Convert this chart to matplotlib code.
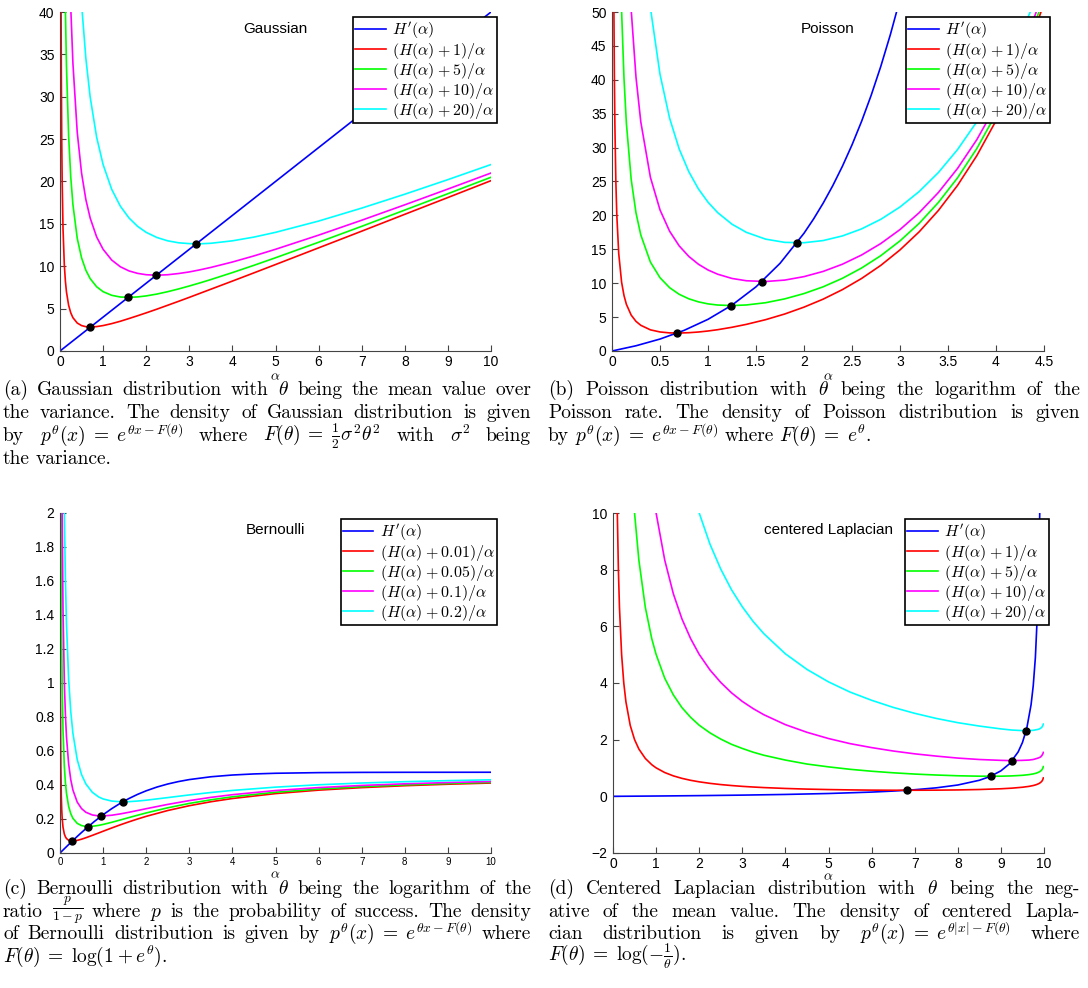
import re
import matplotlib
matplotlib.use('Agg')
import matplotlib.pyplot as plt
from matplotlib.ticker import FuncFormatter

# (a) Gaussian
gauss_alpha = [0.02, 0.025, 0.03, 0.04, 0.05, 0.07, 0.1, 0.125, 0.15, 0.2, 0.25, 0.3, 0.4, 0.5, 0.6, 0.7, 0.85, 1, 1.2, 1.4,
               1.6, 1.8, 2, 2.25, 2.5, 2.75, 3, 3.25, 3.5, 4, 4.5, 5, 6, 7, 8, 9, 10]
gauss_c1 = [50.04, 40.05, 33.39, 25.08, 20.1, 14.43, 10.2, 8.25, 6.97, 5.4, 4.5, 3.93, 3.3, 3.0, 2.87, 2.83, 2.88, 3.0, 3.23, 3.51,
            3.83, 4.16, 4.5, 4.94, 5.4, 5.86, 6.33, 6.81, 7.29, 8.25, 9.22, 10.2, 12.17, 14.14, 16.13, 18.11, 20.1]
gauss_c5 = [250.04, 200.05, 166.7, 125.1, 100.1, 71.57, 50.2, 40.25, 33.63, 25.4, 20.5, 17.27, 13.3, 11.0, 9.53, 8.54, 7.58, 7.0, 6.57, 6.37,
            6.33, 6.38, 6.5, 6.72, 7.0, 7.32, 7.67, 8.04, 8.43, 9.25, 10.11, 11.0, 12.83, 14.71, 16.63, 18.56, 20.5]
gauss_c10 = [500.0, 400.1, 333.4, 250.1, 200.1, 143.0, 100.2, 80.25, 66.97, 50.4, 40.5, 33.93, 25.8, 21.0, 17.87, 15.69, 13.46, 12.0, 10.73, 9.94,
             9.45, 9.16, 9.0, 8.94, 9.0, 9.14, 9.33, 9.58, 9.86, 10.5, 11.22, 12.0, 13.67, 15.43, 17.25, 19.11, 21.0]
gauss_c20 = [1000.0, 800.1, 666.7, 500.1, 400.1, 285.9, 200.2, 160.3, 133.6, 100.4, 80.5, 67.27, 50.8, 41.0, 34.53, 29.97, 25.23, 22.0, 19.07, 17.09,
             15.7, 14.71, 14.0, 13.39, 13.0, 12.77, 12.67, 12.65, 12.71, 13.0, 13.44, 14.0, 15.33, 16.86, 18.5, 20.22, 22.0]
gauss_dH_alpha = [0, 10]
gauss_dH = [0, 40]
gauss_dot_alpha = [0.707, 1.581, 2.236, 3.162]
gauss_dot_y = [2.828, 6.325, 8.944, 12.649]

# (b) Poisson
pois_alpha = [0.02, 0.025, 0.03, 0.04, 0.05, 0.07, 0.1, 0.125, 0.15, 0.2, 0.25, 0.3, 0.4, 0.5, 0.6, 0.7, 0.8, 0.9, 1, 1.1,
              1.25, 1.4, 1.6, 1.8, 2, 2.2, 2.4, 2.6, 2.8, 3, 3.2, 3.4, 3.6, 3.8, 4, 4.2, 4.4, 4.5]
pois_c1 = [50.03, 40.03, 33.37, 25.06, 20.07, 14.38, 10.14, 8.18, 6.88, 5.29, 4.37, 3.79, 3.12, 2.81, 2.67, 2.65, 2.70, 2.80, 2.95, 3.14,
           3.50, 3.93, 4.62, 5.46, 6.47, 7.65, 9.05, 10.70, 12.63, 14.91, 17.58, 20.73, 24.44, 28.81, 33.96, 40.03, 47.21, 51.28]
pois_c5 = [250.03, 200.03, 166.71, 125.06, 100.07, 71.53, 50.14, 40.18, 33.55, 25.29, 20.37, 17.12, 13.12, 10.81, 9.34, 8.36, 7.70, 7.25, 6.95, 6.78,
           6.70, 6.79, 7.12, 7.69, 8.47, 9.47, 10.72, 12.24, 14.06, 16.24, 18.83, 21.91, 25.55, 29.86, 34.96, 40.99, 48.12, 52.17]
pois_c10 = [500.03, 400.03, 333.38, 250.06, 200.07, 142.95, 100.14, 80.18, 66.88, 50.29, 40.37, 33.79, 25.62, 20.81, 17.67, 15.50, 13.95, 12.80, 11.95, 11.33,
            10.70, 10.36, 10.25, 10.46, 10.97, 11.74, 12.80, 14.16, 15.85, 17.91, 20.40, 23.38, 26.94, 31.17, 36.21, 42.18, 49.26, 53.28]
pois_c20 = [1000.03, 800.03, 666.71, 500.06, 400.07, 285.81, 200.14, 160.18, 133.55, 100.29, 80.37, 67.12, 50.62, 40.81, 34.34, 29.79, 26.45, 23.91, 21.95, 20.42,
            18.70, 17.50, 16.50, 16.02, 15.97, 16.29, 16.97, 18.01, 19.42, 21.24, 23.52, 26.32, 29.72, 33.81, 38.71, 44.56, 51.53, 55.50]
pois_dH_alpha = [0, 0.25, 0.5, 0.75, 1, 1.25, 1.5, 1.75, 2, 2.1, 2.2, 2.3, 2.4, 2.5, 2.6, 2.7, 2.8, 2.9, 3]
pois_dH = [0, 0.772, 1.763, 3.036, 4.671, 6.770, 9.464, 12.924, 17.367, 19.480, 21.815, 24.394, 27.245, 30.397, 33.879, 37.729, 41.982, 46.684, 51.880]
pois_dot_alpha = [0.680, 1.2425, 1.562, 1.926]
pois_dot_y = [2.644, 6.698, 10.244, 15.939]

# (c) Bernoulli
bern_alpha = [0.004, 0.005, 0.0065, 0.008, 0.01, 0.015, 0.02, 0.03, 0.04, 0.05, 0.07, 0.1, 0.125, 0.15, 0.2, 0.25, 0.3, 0.4, 0.5, 0.6,
              0.75, 0.9, 1, 1.2, 1.4, 1.6, 1.8, 2, 2.5, 3, 3.5, 4, 5, 6, 7, 8, 9, 10]
bern_c001 = [2.5005, 2.0006, 1.5393, 1.2510, 1.0013, 0.6685, 0.5025, 0.3371, 0.2550, 0.2062, 0.1516, 0.1124, 0.0955, 0.0853, 0.0748, 0.0710, 0.0704, 0.0742, 0.0812, 0.0897,
             0.1037, 0.1182, 0.1280, 0.1472, 0.1658, 0.1834, 0.2000, 0.2156, 0.2499, 0.2782, 0.3015, 0.3205, 0.3494, 0.3697, 0.3845, 0.3958, 0.4045, 0.4116]
bern_c005 = [12.5005, 10.0006, 7.6931, 6.2510, 5.0013, 3.3352, 2.5025, 1.6704, 1.2550, 1.0062, 0.7230, 0.5124, 0.4155, 0.3520, 0.2748, 0.2310, 0.2038, 0.1742, 0.1612, 0.1563,
             0.1570, 0.1626, 0.1680, 0.1805, 0.1943, 0.2084, 0.2222, 0.2356, 0.2659, 0.2916, 0.3129, 0.3305, 0.3574, 0.3763, 0.3902, 0.4008, 0.4090, 0.4156]
bern_c01 = [25.0, 20.0, 15.386, 12.501, 10.001, 6.6685, 5.0025, 3.3371, 2.5050, 2.0062, 1.4373, 1.0124, 0.8155, 0.6853, 0.5248, 0.4310, 0.3704, 0.2992, 0.2612, 0.2397,
            0.2237, 0.2182, 0.2180, 0.2222, 0.2300, 0.2396, 0.2500, 0.2606, 0.2859, 0.3082, 0.3272, 0.3430, 0.3674, 0.3847, 0.3974, 0.4070, 0.4145, 0.4206]
bern_c02 = [50.0, 40.0, 30.770, 25.001, 20.001, 13.335, 10.0025, 6.6704, 5.0050, 4.0062, 2.8659, 2.0124, 1.6155, 1.3520, 1.0248, 0.8310, 0.7038, 0.5492, 0.4612, 0.4063,
            0.3570, 0.3293, 0.3180, 0.3055, 0.3015, 0.3021, 0.3056, 0.3106, 0.3259, 0.3416, 0.3558, 0.3680, 0.3874, 0.4013, 0.4117, 0.4195, 0.4257, 0.4306]
bern_dH_alpha = [0, 0.1, 0.2, 0.3, 0.4, 0.5, 0.6, 0.8, 1, 1.2, 1.4, 1.6, 1.8, 2, 2.25, 2.5, 2.75, 3, 3.5, 4, 4.5, 5, 6, 7, 8, 10]
bern_dH = [0, 0.0249, 0.0495, 0.0737, 0.0975, 0.1207, 0.1432, 0.1860, 0.2253, 0.2609, 0.2926, 0.3206, 0.3449, 0.3659, 0.3880, 0.4059, 0.4203, 0.4319, 0.4484, 0.4587,
           0.4651, 0.4690, 0.4728, 0.4742, 0.4747, 0.4750]
bern_dot_alpha = [0.286, 0.657, 0.961, 1.459]
bern_dot_y = [0.0703, 0.1557, 0.2178, 0.3013]

# (d) centered Laplacian
lap_alpha = [0.05, 0.07, 0.1, 0.125, 0.15, 0.2, 0.25, 0.3, 0.4, 0.5, 0.6, 0.75, 0.9, 1, 1.2, 1.4, 1.6, 1.8, 2, 2.25,
             2.5, 2.75, 3, 3.25, 3.5, 4, 4.5, 5, 5.5, 6, 6.5, 7, 7.5, 8, 8.5, 9, 9.25, 9.5, 9.65, 9.75,
             9.82, 9.88, 9.92, 9.95, 9.97, 9.985]
lap_c1 = [20.0, 14.29, 10.0, 8.0, 6.667, 5.001, 4.001, 3.335, 2.502, 2.003, 1.670, 1.337, 1.116, 1.005, 0.840, 0.722, 0.634, 0.566, 0.512, 0.458,
          0.415, 0.381, 0.352, 0.329, 0.309, 0.278, 0.255, 0.239, 0.227, 0.219, 0.215, 0.215, 0.218, 0.226, 0.241, 0.267, 0.288, 0.321, 0.351, 0.381,
          0.411, 0.449, 0.488, 0.533, 0.583, 0.651]
lap_c5 = [100, 71.4, 50, 40, 33.3, 25, 20, 16.7, 12.5, 10, 8.34, 6.67, 5.56, 5.01, 4.17, 3.58, 3.13, 2.79, 2.51, 2.24,
          2.02, 1.835, 1.69, 1.559, 1.45, 1.28, 1.14, 1.04, 0.954, 0.886, 0.831, 0.786, 0.752, 0.726, 0.711, 0.711, 0.721, 0.742, 0.766, 0.791,
          0.818, 0.854, 0.891, 0.935, 0.984, 1.05]
lap_c10 = [200, 142, 100, 80, 66.7, 50, 40, 33.3, 25, 20, 16.7, 13.3, 11.1, 10, 8.34, 7.15, 6.26, 5.57, 5.01, 4.46,
           4.02, 3.653, 3.35, 3.098, 2.88, 2.53, 2.26, 2.04, 1.86, 1.72, 1.6, 1.5, 1.42, 1.35, 1.3, 1.27, 1.26, 1.27, 1.28, 1.3,
           1.33, 1.36, 1.39, 1.44, 1.49, 1.55]
lap_c20 = [400, 285, 200, 160, 133, 100, 80, 66.7, 50, 40, 33.3, 26.7, 22.2, 20, 16.7, 14.3, 12.5, 11.1, 10, 8.9,
           8.02, 7.29, 6.69, 6.175, 5.74, 5.03, 4.48, 4.04, 3.68, 3.39, 3.14, 2.93, 2.75, 2.6, 2.48, 2.38, 2.34, 2.32, 2.32, 2.33,
           2.35, 2.37, 2.4, 2.44, 2.49, 2.55]
lap_dH_alpha = [0, 1, 2, 3, 4, 5, 6, 6.5, 7, 7.5, 8, 8.5, 8.75, 9, 9.2, 9.4, 9.5, 9.6, 9.7, 9.75, 9.8, 9.85, 9.88, 9.9, 9.92]
lap_dH = [0, 0.0111, 0.025, 0.0429, 0.0667, 0.1, 0.15, 0.1857, 0.2333, 0.3, 0.4, 0.5667, 0.7, 0.9, 1.15, 1.5667, 1.9, 2.4, 3.2333, 3.9,
          4.9, 6.5667, 8.2333, 9.9, 12.4]
lap_dot_alpha = [6.822, 8.764, 9.265, 9.587]
lap_dot_y = [0.2146, 0.7091, 1.261, 2.319]

plt.rcParams['mathtext.fontset'] = 'cm'
plt.rcParams['font.family'] = 'Liberation Sans'

W, HH = 1088, 988
fig = plt.figure(figsize=(W / 100, HH / 100), dpi=100)


def box(l, t, r, b):
    return [l / W, 1 - b / HH, (r - l) / W, (b - t) / HH]


panels = [
    dict(rect=(60, 12, 491, 351), xlim=(0, 10), ylim=(0, 40), xt=range(0, 11), yt=range(0, 41, 5), title='Gaussian',
         leg=(497, 17), xs=10, lp=0, alpha=gauss_alpha, curves=[gauss_c1, gauss_c5, gauss_c10, gauss_c20], consts=['1', '5', '10', '20'],
         hx=gauss_dH_alpha, hy=gauss_dH, dx=gauss_dot_alpha, dy=gauss_dot_y),
    dict(rect=(612, 12, 1044, 351), xlim=(0, 4.5), ylim=(0, 50), xt=[i * 0.5 for i in range(10)], yt=range(0, 51, 5), title='Poisson',
         leg=(1050, 17), xs=10, lp=0, alpha=pois_alpha, curves=[pois_c1, pois_c5, pois_c10, pois_c20], consts=['1', '5', '10', '20'],
         hx=pois_dH_alpha, hy=pois_dH, dx=pois_dot_alpha, dy=pois_dot_y),
    dict(rect=(60, 513, 491, 853), xlim=(0, 10), ylim=(0, 2), xt=range(0, 11), yt=[i * 0.2 for i in range(11)], title='Bernoulli',
         leg=(497, 519), xs=7, lp=0, alpha=bern_alpha, curves=[bern_c001, bern_c005, bern_c01, bern_c02], consts=['0.01', '0.05', '0.1', '0.2'],
         hx=bern_dH_alpha, hy=bern_dH, dx=bern_dot_alpha, dy=bern_dot_y),
    dict(rect=(613, 513, 1044, 853), xlim=(0, 10), ylim=(-2, 10), xt=range(0, 11), yt=range(-2, 11, 2), title='centered Laplacian',
         leg=(1049, 519), xs=10, lp=-1, alpha=lap_alpha, curves=[lap_c1, lap_c5, lap_c10, lap_c20], consts=['1', '5', '10', '20'],
         hx=lap_dH_alpha, hy=lap_dH, dx=lap_dot_alpha, dy=lap_dot_y),
]
colors = ['red', '#00ff00', 'magenta', 'cyan']
fmtr = FuncFormatter(lambda v, p: ('%g' % round(v, 6)).replace('-', '\u2212'))

for p in panels:
    ax = fig.add_axes(box(*p['rect']))
    h, = ax.plot(p['hx'], p['hy'], color='blue', lw=1.2)
    hs = [h]
    for ys, col in zip(p['curves'], colors):
        l, = ax.plot(p['alpha'], ys, color=col, lw=1.2)
        hs.append(l)
    ax.plot(p['dx'], p['dy'], 'o', color='black', ms=5, zorder=5, ls='none')
    ax.set_xlim(p['xlim'])
    ax.set_ylim(p['ylim'])
    ax.set_xticks(list(p['xt']))
    ax.set_yticks(list(p['yt']))
    ax.xaxis.set_major_formatter(fmtr)
    ax.yaxis.set_major_formatter(fmtr)
    for s in ('top', 'right'):
        ax.spines[s].set_visible(False)
    for s in ('left', 'bottom'):
        ax.spines[s].set_color('#444444')
    ax.tick_params(direction='in', length=4, width=0.8, color='#444444', labelsize=10, pad=4)
    ax.tick_params(axis='x', labelsize=p['xs'], pad=3)
    ax.set_xlabel(r'$\alpha$', fontsize=10, labelpad=p['lp'])
    x0, x1 = p['xlim']
    y0, y1 = p['ylim']
    ax.text((x0 + x1) / 2, y1 - 0.05 * (y1 - y0), p['title'], ha='center', va='center', fontsize=11)
    labs = [r"$H'(\alpha)$"] + [r'$(H(\alpha)\:+\:%s)/\alpha$' % c for c in p['consts']]
    leg = ax.legend(hs, labs, loc='upper right', bbox_to_anchor=(p['leg'][0] / W, 1 - p['leg'][1] / HH),
                    bbox_transform=fig.transFigure, fontsize=11.5, fancybox=False, edgecolor='black',
                    framealpha=1, borderpad=0.15, labelspacing=0.0, handlelength=1.9,
                    handletextpad=0.4, borderaxespad=0)
    leg.get_frame().set_linewidth(1.2)

captions = [
    (3, 395, 23, 528, [r'(a) Gaussian distribution with $\theta$ being the mean value over',
                       r'the variance. The density of Gaussian distribution is given',
                       r'by $p^\theta(x)\;=\;e^{\theta x - F(\theta)}$ where $F(\theta)\;=\;\frac{1}{2}\sigma^2\theta^2$ with $\sigma^2$ being',
                       r'the variance.']),
    (548, 395, 23, 532, [r'(b) Poisson distribution with $\theta$ being the logarithm of the',
                         r'Poisson rate. The density of Poisson distribution is given',
                         r'by $p^\theta(x)\;=\;e^{\theta x - F(\theta)}$ where $F(\theta)\;=\;e^\theta$.']),
    (3, 894, 22.5, 528, [r'(c) Bernoulli distribution with $\theta$ being the logarithm of the',
                         r'ratio $\frac{p}{1-p}$ where $p$ is the probability of success. The density',
                         r'of Bernoulli distribution is given by $p^\theta(x)\;=\;e^{\theta x - F(\theta)}$ where',
                         r'$F(\theta)\;=\;\log(1\:+\:e^\theta)$.']),
    (548, 894, 22.5, 532, [r'(d) Centered Laplacian distribution with $\theta$ being the neg-',
                           r'ative of the mean value. The density of centered Lapla-',
                           r'cian distribution is given by $p^\theta(x)\;=\;e^{\theta|x| - F(\theta)}$ where',
                           r'$F(\theta)\;=\;\log(-\frac{1}{\theta})$.']),
]

# justified caption lines, word by word
r = fig.canvas.get_renderer()
for x0, y0, lh, cw, lines in captions:
    for i, line in enumerate(lines):
        words = re.findall(r'\$[^$]*\$\S*|\S+', line)
        ts = []
        for w in words:
            # the inline fraction sits a little high, like in the typeset caption
            lift = 2 if w.startswith(r'$\frac') else 0
            ts.append(fig.text(0, 1 - (y0 + i * lh - lift) / HH, w, fontsize=14, family='cmr10', va='baseline'))
        ws = [t.get_window_extent(r).width for t in ts]
        if i == len(lines) - 1:
            gap = 6
        else:
            gap = max(3, (cw - sum(ws)) / (len(words) - 1))
        x = x0
        for t, w in zip(ts, ws):
            t.set_x(x / W)
            x += w + gap

fig.savefig('out.png', dpi=100)
